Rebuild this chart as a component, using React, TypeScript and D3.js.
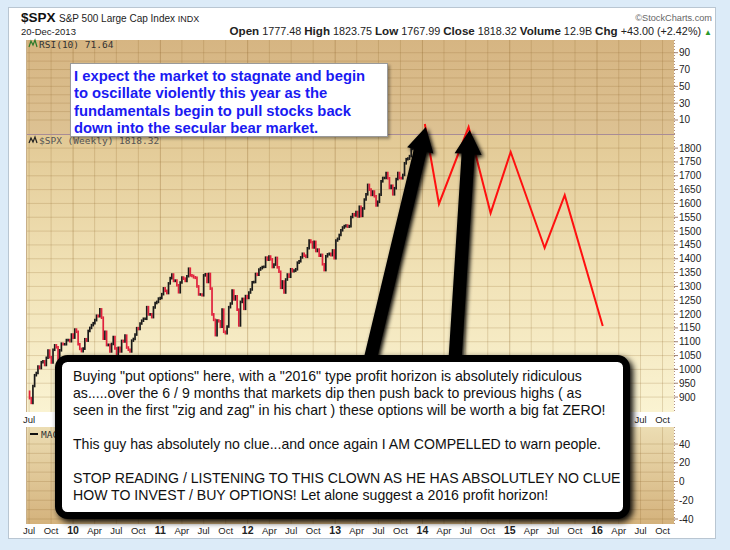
import * as d3 from 'd3';
import React from 'react';

// weekly closes of $SPX, first value is the week of 3-Jul-2009
const closeBefore = 919;
const closes2009 = [896, 879, 940, 979, 987, 1010, 1005, 1026, 1029, 1016, 1042, 1068, 1044, 1025, 1071, 1087, 1080, 1036, 1069, 1093, 1091, 1091, 1106, 1106, 1102, 1126, 1115];
const closes2010 = [1144, 1136, 1091, 1074, 1066, 1075, 1109, 1104, 1139, 1150, 1160, 1167, 1178, 1194, 1192, 1217, 1187, 1111, 1136, 1088, 1089, 1065, 1092, 1117, 1076, 1022, 1078, 1065, 1103, 1101, 1122, 1079, 1071, 1065, 1104, 1110, 1126, 1149, 1146, 1166, 1176, 1183, 1183, 1225, 1199, 1199, 1189, 1224, 1240, 1244, 1256, 1258];
const closes2011 = [1272, 1293, 1284, 1276, 1311, 1330, 1343, 1320, 1321, 1304, 1279, 1314, 1332, 1328, 1320, 1337, 1364, 1340, 1338, 1333, 1331, 1300, 1271, 1271, 1268, 1340, 1344, 1316, 1345, 1292, 1199, 1179, 1124, 1177, 1174, 1154, 1216, 1136, 1131, 1155, 1225, 1238, 1285, 1253, 1264, 1216, 1159, 1244, 1255, 1219, 1265, 1258];
const closes2012 = [1278, 1289, 1315, 1316, 1345, 1342, 1361, 1366, 1370, 1371, 1404, 1397, 1408, 1398, 1370, 1379, 1403, 1369, 1353, 1295, 1318, 1278, 1325, 1343, 1335, 1362, 1355, 1357, 1362, 1386, 1391, 1405, 1418, 1411, 1407, 1438, 1466, 1460, 1441, 1461, 1428, 1433, 1411, 1414, 1380, 1359, 1409, 1416, 1418, 1413, 1430, 1402];
const closes2013 = [1466, 1472, 1486, 1503, 1513, 1518, 1520, 1516, 1518, 1551, 1561, 1557, 1569, 1553, 1588, 1555, 1582, 1614, 1633, 1667, 1650, 1631, 1643, 1626, 1593, 1606, 1632, 1680, 1692, 1692, 1710, 1691, 1656, 1664, 1633, 1655, 1688, 1710, 1692, 1691, 1703, 1745, 1760, 1762, 1771, 1798, 1805, 1806, 1805, 1775, 1818];

// hand drawn projection
const projDates = ['2014-01-11', '2014-03-11', '2014-07-13', '2014-10-13', '2015-01-05', '2015-05-27', '2015-08-19', '2016-01-25'];
const projValues = [1887, 1598, 1876, 1565, 1786, 1439, 1630, 1157];

const rsiTicks = [10, 30, 50, 70, 90];
const priceTicks = [900, 950, 1000, 1050, 1100, 1150, 1200, 1250, 1300, 1350, 1400, 1450, 1500, 1550, 1600, 1650, 1700, 1750, 1800];
const macdTicks = [-40, -20, 0, 20, 40];

const noteLines = [
  'I expect the market to stagnate and begin',
  'to oscillate violently this year as the',
  'fundamentals begin to pull stocks back',
  'down into the secular bear market.',
];
const rantLines = [
  'Buying "put options" here, with a "2016" type profit horizon is absolutely ridiculous',
  'as.....over the 6 / 9 months that markets dip then push back to previous highs ( as',
  'seen in the first "zig and zag" in his chart ) these options will be worth a big fat ZERO!',
  '',
  'This guy has absolutely no clue...and once again I AM COMPELLED to warn people.',
  '',
  'STOP READING / LISTENING TO THIS CLOWN AS HE HAS ABSOLUTLEY NO CLUE',
  'HOW TO INVEST / BUY OPTIONS! Let alone suggest a 2016 profit horizon!',
];

const left = 26;
const right = 674;
const rsiTop = 40, rsiBottom = 134;
const priceTop = 134, priceBottom = 412;
const macdTop = 427, macdBottom = 524;
const boxLeft = 55, boxRight = 630;

function arrowPath(tx: number, ty: number, hx: number, hy: number) {
  const shaft = 13, headLen = 24, headW = 27;
  const dx = hx - tx, dy = hy - ty;
  const len = Math.hypot(dx, dy);
  const ux = dx / len, uy = dy / len, px = -uy, py = ux;
  const bx = hx - ux * headLen, by = hy - uy * headLen;
  const pts = [
    [tx + px * shaft / 2, ty + py * shaft / 2],
    [bx + px * shaft / 2, by + py * shaft / 2],
    [bx + px * headW / 2, by + py * headW / 2],
    [hx, hy],
    [bx - px * headW / 2, by - py * headW / 2],
    [bx - px * shaft / 2, by - py * shaft / 2],
    [tx - px * shaft / 2, ty - py * shaft / 2],
  ];
  return 'M' + pts.map((p) => p[0].toFixed(1) + ',' + p[1].toFixed(1)).join('L') + 'Z';
}

export default function App() {
  const closes = [...closes2009, ...closes2010, ...closes2011, ...closes2012, ...closes2013];
  const weeks = d3.timeFriday.range(new Date(2009, 6, 3), new Date(2013, 11, 21));
  const candles = closes.map((c, i) => ({ date: weeks[i], open: i === 0 ? closeBefore : closes[i - 1], close: c }));

  const x = d3.scaleTime().domain([new Date(2009, 5, 18), new Date(2016, 10, 18)]).range([left, right]);
  const yPrice = d3.scaleLinear().domain([846, 1851]).range([priceBottom, priceTop]);
  const yRsi = d3.scaleLinear().domain([0, 100]).range([128.4, 44.3]);
  const yMacd = d3.scaleLinear().domain([-40, 40]).range([519, 444]);

  const quarters = d3.timeMonth.every(3)!.range(new Date(2009, 6, 1), new Date(2016, 10, 1));
  const monthFmt = d3.timeFormat('%b');
  const yearFmt = d3.timeFormat('%y');

  const proj = projDates.map((d, i) => ({ date: d3.timeParse('%Y-%m-%d')(d)!, value: projValues[i] }));
  const projLine = d3.line<{ date: Date; value: number }>().x((d) => x(d.date)).y((d) => yPrice(d.value));

  const grid = 'rgba(140,100,40,0.22)';
  const gridJan = 'rgba(140,100,40,0.34)';

  const hLines = (ticks: number[], scale: (v: number) => number) =>
    ticks.map((t) => <line key={t} x1={left} x2={right} y1={scale(t)} y2={scale(t)} stroke={grid} strokeWidth={1} />);
  const vLines = (top: number, bottom: number) =>
    quarters.map((q) => (
      <line key={+q} x1={x(q)} x2={x(q)} y1={top} y2={bottom} stroke={q.getMonth() === 0 ? gridJan : grid} strokeWidth={1} />
    ));
  const rightAxis = (ticks: number[], scale: (v: number) => number, top: number, bottom: number) => (
    <g>
      <line x1={right + 0.5} x2={right + 0.5} y1={top} y2={bottom} stroke="#b09080" strokeDasharray="1,2" />
      {ticks.map((t) => (
        <g key={t}>
          <line x1={right} x2={right + 4} y1={scale(t)} y2={scale(t)} stroke="#a08070" />
          <text x={right + 5} y={scale(t) + 3.5} fontSize={10} fill="#222" fontFamily="Liberation Sans, Arial">
            {t}
          </text>
        </g>
      ))}
    </g>
  );
  // the middle date row is mostly hidden behind the comment box
  const dateLabels = (yy: number, hideUnderBox: boolean) =>
    quarters
      .filter((q) => !hideUnderBox || x(q) < boxLeft - 6 || x(q) > boxRight + 6)
      .map((q) => {
        const isJan = q.getMonth() === 0;
        return (
          <text key={+q} x={x(q)} y={yy} textAnchor="middle" fontSize={isJan ? 10.5 : 9.5} fontWeight={isJan ? 'bold' : 'normal'} fill="#222" fontFamily="Liberation Sans, Arial">
            {isJan ? yearFmt(q) : monthFmt(q)}
          </text>
        );
      });

  const tip1 = { x: x(proj[0].date) + 1, y: yPrice(proj[0].value) + 3 };
  const tip2 = { x: x(proj[2].date) + 1, y: yPrice(proj[2].value) + 3 };

  const rantTop = 381;
  const rantY = [0, 17, 34, 0, 68, 0, 102, 119];
  const hb = { fontWeight: 'bold' as const, fontSize: 11.6 };

  return (
    <svg width={730} height={550} style={{ position: 'absolute', left: 0, top: 0, display: 'block' }} fontFamily="Liberation Sans, Arial, sans-serif">
      <defs>
        <linearGradient id="rsiG" x1="0" y1="0" x2="0" y2="1">
          <stop offset="0" stopColor="#d6b582" />
          <stop offset="1" stopColor="#ddc293" />
        </linearGradient>
        <linearGradient id="priceG" x1="0" y1="0" x2="0" y2="1">
          <stop offset="0" stopColor="#e2c995" />
          <stop offset="0.5" stopColor="#f1e2b6" />
          <stop offset="1" stopColor="#faf3d2" />
        </linearGradient>
        <linearGradient id="macdG" x1="0" y1="0" x2="0" y2="1">
          <stop offset="0" stopColor="#ecddb3" />
          <stop offset="1" stopColor="#d4b27c" />
        </linearGradient>
        <clipPath id="macdLabelClip">
          <rect x={26} y={426} width={30} height={16} />
        </clipPath>
        <filter id="soft" x="-30%" y="-30%" width="160%" height="160%">
          <feGaussianBlur in="SourceAlpha" stdDeviation="2.2" />
          <feOffset dx="2" dy="2" result="b" />
          <feMerge>
            <feMergeNode in="b" />
            <feMergeNode in="SourceGraphic" />
          </feMerge>
        </filter>
        <filter id="boxShadow" x="-10%" y="-20%" width="120%" height="140%">
          <feGaussianBlur in="SourceAlpha" stdDeviation="3" />
          <feOffset dx="3" dy="3" result="b" />
          <feMerge>
            <feMergeNode in="b" />
            <feMergeNode in="SourceGraphic" />
          </feMerge>
        </filter>
        <filter id="lightShadow" x="-10%" y="-20%" width="120%" height="140%">
          <feGaussianBlur in="SourceAlpha" stdDeviation="1.5" />
          <feOffset dx="2" dy="2" />
          <feComponentTransfer>
            <feFuncA type="linear" slope="0.35" />
          </feComponentTransfer>
          <feMerge>
            <feMergeNode />
            <feMergeNode in="SourceGraphic" />
          </feMerge>
        </filter>
      </defs>

      <rect x={0} y={0} width={730} height={550} fill="#dcebf8" />
      <rect x={8.5} y={7.5} width={707} height={531} fill="#ffffff" stroke="#b9c6d2" />

      {/* header */}
      <text x={21} y={22} fontSize={13.5} fontWeight="bold" fill="#111">$SPX</text>
      <text x={59} y={22} fontSize={10} fill="#222">S&amp;P 500 Large Cap Index <tspan fontSize={9}>INDX</tspan></text>
      <text x={712} y={21} fontSize={9.2} fill="#666" textAnchor="end">©StockCharts.com</text>
      <text x={21} y={35} fontSize={9.5} fill="#222">20-Dec-2013</text>
      <text x={712} y={35} fontSize={10.8} fill="#222" textAnchor="end">
        <tspan {...hb}>Open</tspan> 1777.48 <tspan {...hb}>High</tspan> 1823.75 <tspan {...hb}>Low</tspan> 1767.99{' '}
        <tspan {...hb}>Close</tspan> 1818.32 <tspan {...hb}>Volume</tspan> 12.9B <tspan {...hb}>Chg</tspan> +43.00 (+2.42%){' '}
        <tspan fill="#2a9a2a" fontSize={8}>▲</tspan>
      </text>

      {/* panels */}
      <rect x={left} y={rsiTop} width={right - left} height={rsiBottom - rsiTop} fill="url(#rsiG)" />
      <rect x={left} y={priceTop} width={right - left} height={priceBottom - priceTop} fill="url(#priceG)" />
      <rect x={left} y={macdTop} width={right - left} height={macdBottom - macdTop} fill="url(#macdG)" />

      {hLines(d3.range(10, 100, 10), yRsi)}
      {hLines(priceTicks, yPrice)}
      {hLines(d3.range(-40, 41, 10), yMacd)}
      {vLines(rsiTop, rsiBottom)}
      {vLines(priceTop, priceBottom)}
      {vLines(macdTop, macdBottom)}
      <line x1={left} x2={right} y1={priceTop + 0.5} y2={priceTop + 0.5} stroke="#a88c96" />
      <line x1={left + 0.5} x2={left + 0.5} y1={rsiTop} y2={priceBottom} stroke="#c8b08a" />
      <line x1={left + 0.5} x2={left + 0.5} y1={macdTop} y2={macdBottom} stroke="#c8b08a" />

      {rightAxis(rsiTicks, yRsi, rsiTop, rsiBottom)}
      {rightAxis(priceTicks, yPrice, priceTop, priceBottom)}
      {rightAxis(macdTicks, yMacd, macdTop, macdBottom)}

      {dateLabels(423, true)}
      {dateLabels(534, false)}

      {/* panel labels */}
      <path d="M29,47 L31,41 L33,45 L35,40 L37,47" fill="none" stroke="#2a7a2a" strokeWidth={1.2} />
      <text x={39} y={48} fontSize={9.5} fill="#333" fontFamily="DejaVu Sans Mono, monospace">RSI(10) 71.64</text>
      <path d="M29,143 L31,138 L33,142 L35,137 L37,143" fill="none" stroke="#222" strokeWidth={1.2} />
      <text x={39} y={144} fontSize={9.5} fill="#555" fontFamily="DejaVu Sans Mono, monospace">$SPX (Weekly) 1818.32</text>
      <line x1={30} x2={38} y1={434} y2={434} stroke="#111" strokeWidth={2} />
      <text x={41} y={437.5} fontSize={9.5} fill="#333" fontFamily="DejaVu Sans Mono, monospace" clipPath="url(#macdLabelClip)">MACD</text>

      {/* candles */}
      {candles.map((c, i) => {
        const up = c.close >= c.open;
        const y1 = yPrice(Math.max(c.open, c.close));
        const y2 = yPrice(Math.min(c.open, c.close));
        return (
          <line key={i} x1={x(c.date)} x2={x(c.date)} y1={y1 - 1.3} y2={y2 + 1.3} stroke={up ? '#1a1a1a' : '#e0203c'} strokeWidth={1.7} />
        );
      })}

      {/* projection */}
      <path d={projLine(proj)!} fill="none" stroke="#ff1010" strokeWidth={2} strokeLinejoin="miter" />

      {/* note box */}
      <g filter="url(#lightShadow)">
        <rect x={70.5} y={63.5} width={317} height={73} fill="#ffffff" stroke="#9a9a9a" />
      </g>
      {noteLines.map((t, i) => (
        <text key={i} x={74} y={80.5 + i * 17.6} fontSize={14.8} fontWeight="bold" fill="#1a1af2">
          {t}
        </text>
      ))}

      {/* arrows */}
      <g filter="url(#soft)">
        <path d={arrowPath(370, 360, tip1.x, tip1.y)} fill="#000" />
        <path d={arrowPath(455, 360, tip2.x, tip2.y)} fill="#000" />
      </g>

      {/* rant box */}
      <g filter="url(#boxShadow)">
        <rect x={58.5} y={358.5} width={568} height={157} rx={9} fill="#ffffff" stroke="#000" strokeWidth={7} />
      </g>
      {rantLines.map((t, i) =>
        t ? (
          <text key={i} x={73} y={rantTop + rantY[i]} fontSize={14.1} fill="#111">
            {t}
          </text>
        ) : null,
      )}
    </svg>
  );
}
